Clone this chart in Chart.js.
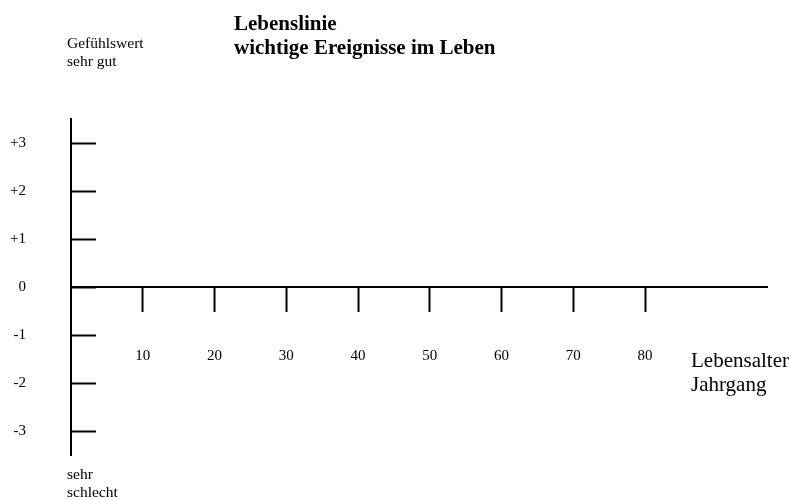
<!DOCTYPE html>
<html>
<head>
<meta charset="utf-8">
<script src="https://cdn.jsdelivr.net/npm/chart.js@4"></script>
<style>
  html, body { margin: 0; padding: 0; background: #ffffff; }
  #c { display: block; }
</style>
</head>
<body>
<canvas id="c" width="791" height="500"></canvas>
<script>
// ---- data ----
const titleLines = ['Lebenslinie', 'wichtige Ereignisse im Leben'];
const yAxisTopLabel = ['Gefühlswert', 'sehr gut'];
const yAxisBottomLabel = ['sehr', 'schlecht'];
const xAxisLabel = ['Lebensalter', 'Jahrgang'];
const yTickValues = [-3, -2, -1, 0, 1, 2, 3];
const yTickLabels = ['-3', '-2', '-1', '0', '+1', '+2', '+3'];
const xTickValues = [10, 20, 30, 40, 50, 60, 70, 80];
const xTickLabels = ['10', '20', '30', '40', '50', '60', '70', '80'];
const lifeEvents = []; // blank template: no events entered yet

// ---- styling ----
const SERIF = "'Liberation Serif', 'Times New Roman', serif";

const annotations = {
  id: 'annotations',
  afterDraw(chart) {
    const ctx = chart.ctx;
    ctx.save();
    ctx.fillStyle = '#000';
    ctx.textAlign = 'left';
    ctx.textBaseline = 'alphabetic';
    ctx.font = 'bold 21px ' + SERIF;
    titleLines.forEach((t, i) => ctx.fillText(t, 234, 30 + i * 24));
    ctx.font = '15.5px ' + SERIF;
    yAxisTopLabel.forEach((t, i) => ctx.fillText(t, 67, 48 + i * 18));
    yAxisBottomLabel.forEach((t, i) => ctx.fillText(t, 67, 479 + i * 18));
    ctx.font = '21px ' + SERIF;
    xAxisLabel.forEach((t, i) => ctx.fillText(t, 691, 367 + i * 24));
    ctx.restore();
  }
};

new Chart(document.getElementById('c'), {
  type: 'scatter',
  data: { datasets: [{ data: lifeEvents, borderColor: '#000', backgroundColor: '#000' }] },
  options: {
    responsive: false,
    animation: false,
    layout: { padding: { left: 0, right: 24, top: 119, bottom: 45 } },
    plugins: { legend: { display: false }, tooltip: { enabled: false }, title: { display: false } },
    scales: {
      x: {
        type: 'linear',
        position: { y: 0 },
        min: 0,
        max: 97,
        afterBuildTicks: s => { s.ticks = xTickValues.map(v => ({ value: v })); },
        ticks: {
          callback: (v, i) => xTickLabels[i],
          color: '#000',
          font: { family: SERIF, size: 15 },
          padding: 36,
          maxRotation: 0,
          autoSkip: false
        },
        grid: { drawOnChartArea: false, drawTicks: true, tickLength: 24, tickWidth: 2, tickColor: '#000' },
        border: { display: true, color: '#000', width: 2 }
      },
      y: {
        type: 'linear',
        position: 'left',
        min: -3.5,
        max: 3.5,
        afterBuildTicks: s => { s.ticks = yTickValues.map(v => ({ value: v })); },
        afterFit: s => { s.width = 71; s.paddingTop = 0; s.paddingBottom = 0; },
        ticks: {
          callback: (v, i) => yTickLabels[i],
          color: '#000',
          font: { family: SERIF, size: 15 },
          padding: 70,
          autoSkip: false
        },
        grid: { drawOnChartArea: false, drawTicks: true, tickLength: -25, tickWidth: 2, tickColor: '#000' },
        border: { display: true, color: '#000', width: 2 }
      }
    }
  },
  plugins: [annotations]
});
</script>
</body>
</html>
